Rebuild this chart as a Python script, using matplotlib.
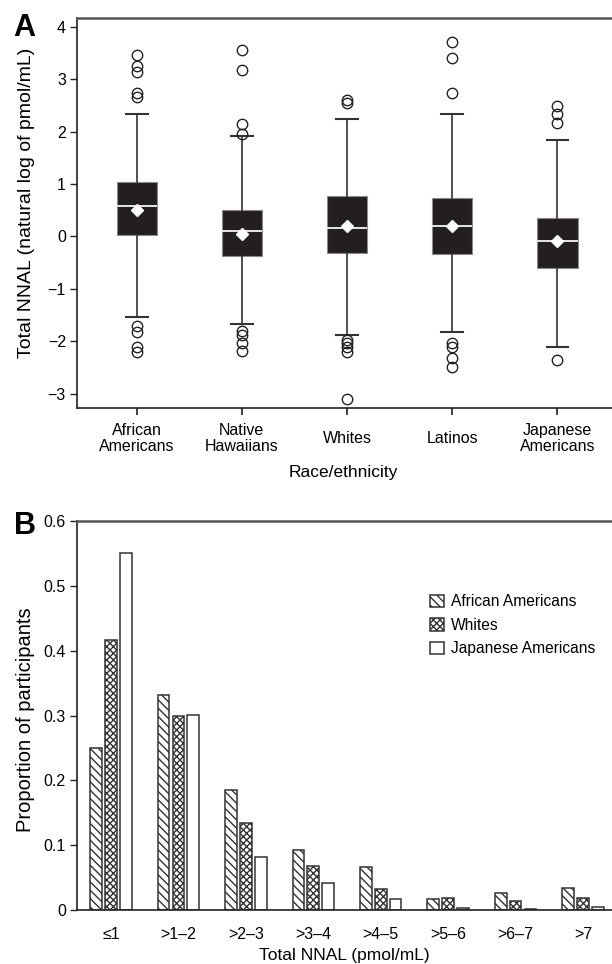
import matplotlib
matplotlib.use('Agg')
import matplotlib.pyplot as plt
import numpy as np

plt.rcParams['font.family'] = ['Liberation Sans', 'DejaVu Sans']
plt.rcParams['hatch.linewidth'] = 1.0

# ---------------- Panel A data (natural log of pmol/mL) ----------------
groups_a = ['African\nAmericans', 'Native\nHawaiians', 'Whites', 'Latinos', 'Japanese\nAmericans']
q1 = [0.03, -0.38, -0.32, -0.34, -0.61]
medians = [0.59, 0.10, 0.17, 0.20, -0.08]
q3 = [1.04, 0.51, 0.77, 0.73, 0.36]
means = [0.50, 0.05, 0.20, 0.20, -0.09]
whisker_low = [-1.54, -1.67, -1.87, -1.82, -2.10]
whisker_high = [2.33, 1.92, 2.24, 2.34, 1.84]
outliers_aa = [3.45, 3.24, 3.14, 2.73, 2.66, -1.70, -1.83, -2.11, -2.21]
outliers_nh = [3.55, 3.18, 2.15, 1.95, -1.80, -1.87, -2.04, -2.18]
outliers_wh = [2.61, 2.54, -1.97, -2.04, -2.11, -2.21, -3.10]
outliers_la = [3.71, 3.40, 2.73, -2.03, -2.11, -2.32, -2.48]
outliers_ja = [2.48, 2.34, 2.17, -2.35]
outliers = [outliers_aa, outliers_nh, outliers_wh, outliers_la, outliers_ja]

# ---------------- Panel B data (proportion of participants) ----------------
bins = ['\u22641', '>1\u20132', '>2\u20133', '>3\u20134', '>4\u20135', '>5\u20136', '>6\u20137', '>7']
african_americans = [0.250, 0.331, 0.185, 0.092, 0.067, 0.0165, 0.026, 0.0335]
whites = [0.417, 0.300, 0.134, 0.068, 0.032, 0.019, 0.014, 0.0185]
japanese_americans = [0.550, 0.301, 0.081, 0.042, 0.0175, 0.003, 0.0015, 0.004]

W, H = 612, 964
fig = plt.figure(figsize=(W / 100, H / 100), dpi=100)

def frac_axes(x0, y_top, x1, y_bot):
    return fig.add_axes([x0 / W, 1 - y_bot / H, (x1 - x0) / W, (y_bot - y_top) / H])

def style_spines(ax):
    ax.spines['right'].set_visible(False)
    ax.spines['top'].set_color('#555555')
    ax.spines['top'].set_linewidth(1.8)
    for s in ('left', 'bottom'):
        ax.spines[s].set_color('#222222')
        ax.spines[s].set_linewidth(1.2)

# ---------------- Panel A ----------------
axA = frac_axes(77, 17.7, 612, 408)
stats = []
for i in range(len(groups_a)):
    stats.append(dict(med=medians[i], q1=q1[i], q3=q3[i], whislo=whisker_low[i],
                      whishi=whisker_high[i], mean=means[i], fliers=outliers[i],
                      label=groups_a[i]))
positions = np.arange(1, len(groups_a) + 1)
axA.bxp(stats, positions=positions, widths=0.383, capwidths=0.207,
        showmeans=True, patch_artist=True, showfliers=True,
        boxprops=dict(facecolor='#231f20', edgecolor='#8a8a8a', linewidth=0.8),
        medianprops=dict(color='#e6e6e6', linewidth=1.4),
        whiskerprops=dict(color='#333333', linewidth=1.2),
        capprops=dict(color='#333333', linewidth=1.5),
        flierprops=dict(marker='o', markerfacecolor='none', markeredgecolor='#222222',
                        markersize=7.5, markeredgewidth=1.0),
        meanprops=dict(marker='D', markerfacecolor='white', markeredgecolor='white',
                       markersize=6.0))
axA.set_xlim(0.4325, 5.519)
axA.set_ylim(-3.27, 4.17)
axA.set_yticks(np.arange(-3, 5, 1))
axA.set_xticks(positions)
axA.set_xticklabels(groups_a, fontsize=11.5, va='center', linespacing=1.1)
axA.tick_params(axis='x', direction='out', length=5, width=1.2, pad=17, color='#222222')
axA.tick_params(axis='y', direction='out', length=5, width=1.0, labelsize=11.5, color='#222222', pad=3)
style_spines(axA)
axA.set_ylabel('Total NNAL (natural log of pmol/mL)', fontsize=14)
axA.yaxis.set_label_coords(-0.079, 0.525)
axA.set_xlabel('Race/ethnicity', fontsize=12.5)
axA.xaxis.set_label_coords(0.497, -0.147)

# ---------------- Panel B ----------------
axB = frac_axes(77, 521, 612, 910)
x = np.arange(len(bins))
bw = 0.173
off = 0.22
axB.bar(x - off, african_americans, width=bw, facecolor='white', edgecolor='#333333',
        linewidth=1.1, hatch='\\\\\\\\', label='African Americans')
axB.bar(x, whites, width=bw, facecolor='white', edgecolor='#333333',
        linewidth=1.1, hatch='xxxxx', label='Whites')
axB.bar(x + off, japanese_americans, width=bw, facecolor='white', edgecolor='#333333',
        linewidth=1.1, label='Japanese Americans')
axB.set_xlim(-0.504, 7.43)
axB.set_ylim(0, 0.6)
axB.set_yticks([0, 0.1, 0.2, 0.3, 0.4, 0.5, 0.6])
axB.set_yticklabels(['0', '0.1', '0.2', '0.3', '0.4', '0.5', '0.6'])
axB.set_xticks(x)
axB.set_xticklabels(bins, fontsize=11.5)
axB.tick_params(axis='x', length=0, pad=12)
axB.tick_params(axis='y', direction='out', length=5, width=1.0, labelsize=11.5, color='#222222', pad=3)
style_spines(axB)
axB.set_ylabel('Proportion of participants', fontsize=14.5)
axB.yaxis.set_label_coords(-0.079, 0.49)
axB.set_xlabel('Total NNAL (pmol/mL)', fontsize=12.5)
axB.xaxis.set_label_coords(0.5, -0.097)
axB.legend(loc='upper left', bbox_to_anchor=(0.66, 0.812), frameon=False, fontsize=11.2,
           handlelength=0.92, handleheight=0.85, handletextpad=0.45, labelspacing=0.55,
           borderpad=0, borderaxespad=0)

fig.text(13 / W, 1 - 13 / H, 'A', fontsize=22, fontweight='bold', va='top', ha='left')
fig.text(14 / W, 1 - 511 / H, 'B', fontsize=22, fontweight='bold', va='top', ha='left')

fig.savefig('out.png', dpi=100)
